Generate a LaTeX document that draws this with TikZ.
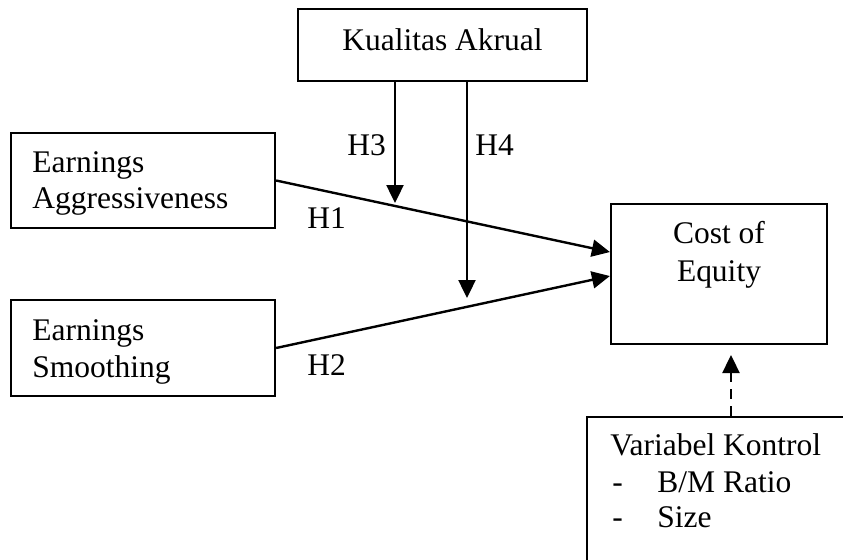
\documentclass[tikz,border=0pt]{standalone}
\usepackage{fontspec}
\setmainfont{Liberation Serif}
\usetikzlibrary{arrows.meta}
\begin{document}
\begin{tikzpicture}[x=0.5pt,y=-0.5pt,
  font=\fontsize{15.75}{18}\selectfont,
  box/.style={draw, line width=1.1pt, inner sep=0pt},
  txt/.style={inner sep=0pt, anchor=base west},
  ctxt/.style={inner sep=0pt, anchor=base},
  arr/.style={line width=1.2pt, -{Triangle[length=9pt,width=8.5pt]}},
  dashline/.style={dash pattern=on 5pt off 3.5pt}]
\useasboundingbox (0,0) rectangle (843,559);
\clip (0,0) rectangle (843,559);

% boxes
\node[box, minimum width=144.5pt, minimum height=36pt] (ka) at (442.5,45) {};
\node[box, minimum width=132pt, minimum height=47.5pt] (ea) at (143,180.5) {};
\node[box, minimum width=132pt, minimum height=48pt] (es) at (143,348) {};
\node[box, minimum width=108pt, minimum height=70pt] (coe) at (719,274) {};
\node[box, minimum width=131.5pt, minimum height=76.5pt] (vk) at (718.5,493.5) {};

% texts
\node[ctxt] (kaT) at (442.5,50) {Kualitas Akrual};
\node[txt] (eaT1) at (32,172) {Earnings};
\node[txt] (eaT2) at (32,208) {Aggressiveness};
\node[txt] (esT1) at (32,340) {Earnings};
\node[txt] (esT2) at (32,377) {Smoothing};
\node[ctxt] (coeT1) at (719,243) {Cost of};
\node[ctxt] (coeT2) at (719,281) {Equity};
\node[txt] (vkT1) at (610,455) {Variabel Kontrol};
\node[txt] (vkD1) at (612,492) {-};
\node[txt] (vkT2) at (657,492) {B/M Ratio};
\node[txt] (vkD2) at (612,527) {-};
\node[txt] (vkT3) at (657,527) {Size};

% hypothesis labels
\node[txt] (h1) at (307,228) {H1};
\node[txt] (h2) at (307,375) {H2};
\node[txt] (h3) at (347,155) {H3};
\node[txt] (h4) at (475,155) {H4};

% connectors
\coordinate (h3tip) at (395,203);
\coordinate (h4tip) at (467,298);
\coordinate (ctrltip) at (731,355);
\draw[arr] (ea.east) -- ([yshift=11pt]coe.west);
\draw[arr] (es.east) -- ([yshift=-1pt]coe.west);
\draw[arr] (h3tip |- ka.south) -- (h3tip);
\draw[arr] (h4tip |- ka.south) -- (h4tip);
\draw[arr, dashline] (ctrltip |- vk.north) -- (ctrltip);
\end{tikzpicture}
\end{document}
